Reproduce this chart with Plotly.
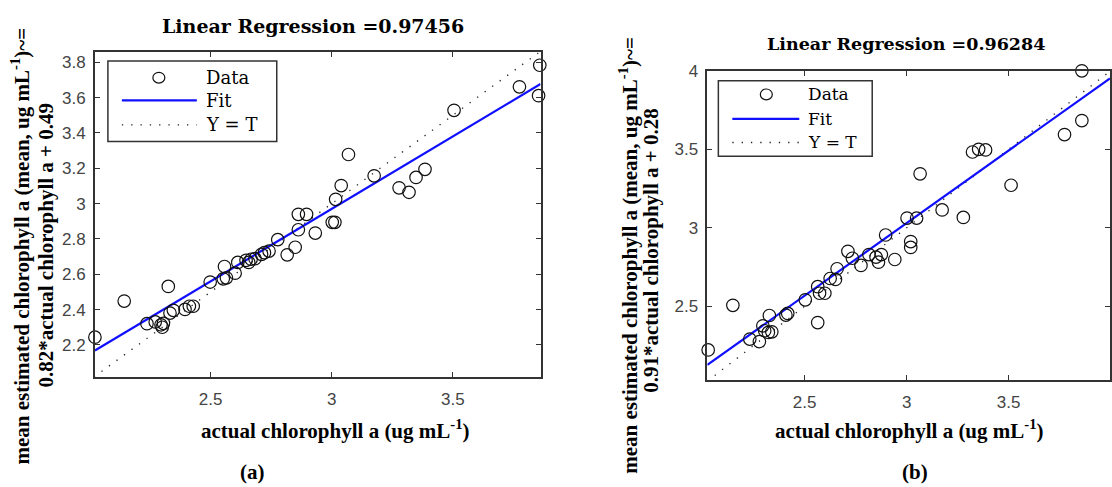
import plotly.graph_objects as go

W, H = 1112, 487

# ---------------- data ----------------
actual_a = [2.022, 2.143, 2.237, 2.271, 2.295, 2.300, 2.305, 2.325, 2.332, 2.346,
            2.394, 2.412, 2.428, 2.498, 2.552, 2.557, 2.565, 2.601, 2.612, 2.646,
            2.657, 2.667, 2.683, 2.710, 2.722, 2.741, 2.777, 2.816, 2.849, 2.862,
            2.862, 2.896, 2.932, 3.002, 3.013, 3.016, 3.039, 3.069, 3.175, 3.278,
            3.319, 3.348, 3.385, 3.505, 3.775, 3.854, 3.859]
estimated_a = [2.244, 2.448, 2.320, 2.330, 2.314, 2.300, 2.322, 2.531, 2.380, 2.396,
               2.401, 2.419, 2.419, 2.556, 2.574, 2.644, 2.580, 2.606, 2.667, 2.679,
               2.667, 2.685, 2.688, 2.713, 2.722, 2.731, 2.796, 2.710, 2.753, 2.939,
               2.852, 2.939, 2.833, 2.894, 2.894, 3.024, 3.102, 3.278, 3.157, 3.089,
               3.064, 3.148, 3.194, 3.528, 3.661, 3.611, 3.783]

actual_b = [2.027, 2.148, 2.231, 2.278, 2.295, 2.304, 2.322, 2.339, 2.327, 2.408,
            2.417, 2.503, 2.564, 2.564, 2.573, 2.599, 2.625, 2.651, 2.659, 2.712,
            2.734, 2.776, 2.815, 2.850, 2.862, 2.876, 2.897, 2.942, 3.002, 3.020,
            3.020, 3.049, 3.066, 3.174, 3.278, 3.323, 3.353, 3.387, 3.512, 3.774,
            3.859, 3.859]
estimated_b = [2.222, 2.506, 2.291, 2.275, 2.375, 2.344, 2.333, 2.337, 2.441, 2.444,
               2.454, 2.541, 2.396, 2.625, 2.583, 2.583, 2.677, 2.671, 2.739, 2.850,
               2.806, 2.760, 2.829, 2.813, 2.781, 2.829, 2.954, 2.798, 3.062, 2.912,
               2.875, 3.062, 3.344, 3.114, 3.066, 3.483, 3.500, 3.496, 3.271, 3.594,
               3.683, 4.000]

fit_a = (0.82, 0.510)    # slope, intercept of drawn fit line
fit_b = (0.925, 0.255)

range_x_a = [2.022, 3.862]
range_y_a = [2.018, 3.857]
range_x_b = [2.023, 3.997]
range_y_b = [2.030, 4.000]

ticks_y_a = [2.2, 2.4, 2.6, 2.8, 3.0, 3.2, 3.4, 3.6, 3.8]
ticklabels_y_a = ["2.2", "2.4", "2.6", "2.8", "3", "3.2", "3.4", "3.6", "3.8"]
ticks_x_a = [2.5, 3.0, 3.5]
ticklabels_x_a = ["2.5", "3", "3.5"]
ticks_b = [2.5, 3.0, 3.5, 4.0]
ticklabels_b = ["2.5", "3", "3.5", "4"]

titles = ["Linear Regression =0.97456", "Linear Regression =0.96284"]
xlabel = "actual chlorophyll a (ug mL<sup>-1</sup>)"
ylabel1 = "mean estimated chlorophyll a (mean, ug mL<sup>-1</sup>)~="
ylabel2 = ["0.82*actual chlorophyll a + 0.49", "0.91*actual chlorophyll a + 0.28"]
legend_names = ["Data", "Fit", "Y = T"]
panel_tags = ["(a)", "(b)"]

# ---------------- helpers ----------------
def px(x):
    return x / W

def py(y):
    return 1 - y / H

fig = go.Figure()

panels = [
    dict(xs=actual_a, ys=estimated_a, fit=fit_a, rx=range_x_a, ry=range_y_a,
         xa="x", ya="y"),
    dict(xs=actual_b, ys=estimated_b, fit=fit_b, rx=range_x_b, ry=range_y_b,
         xa="x2", ya="y2"),
]

for p in panels:
    lo = min(p["rx"][0], p["ry"][0])
    hi = max(p["rx"][1], p["ry"][1])
    # Y = T
    fig.add_trace(go.Scatter(x=[lo, hi], y=[lo, hi], mode="lines",
                             line=dict(color="#222", width=1.3, dash="1.3px,8px"),
                             xaxis=p["xa"], yaxis=p["ya"], showlegend=False,
                             hoverinfo="skip"))
    # Fit
    m, c = p["fit"]
    fx = [p["rx"][0], p["rx"][1]]
    fig.add_trace(go.Scatter(x=fx, y=[m * v + c for v in fx], mode="lines",
                             line=dict(color="#1010ff", width=2.2),
                             xaxis=p["xa"], yaxis=p["ya"], showlegend=False))
    # Data
    fig.add_trace(go.Scatter(x=p["xs"], y=p["ys"], mode="markers",
                             marker=dict(symbol="circle-open", size=12.5,
                                         color="#111", line=dict(width=1.2)),
                             cliponaxis=False,
                             xaxis=p["xa"], yaxis=p["ya"], showlegend=False))

axis_common = dict(showline=True, linecolor="#333", linewidth=1.5, mirror="ticks",
                   ticks="inside", ticklen=5, tickwidth=1.2, tickcolor="#333",
                   showgrid=False, zeroline=False,
                   tickfont=dict(family="Liberation Sans", size=17, color="#444"))

fig.update_layout(
    width=W, height=H,
    margin=dict(l=0, r=0, t=0, b=0),
    paper_bgcolor="white", plot_bgcolor="white",
    showlegend=False,
    xaxis=dict(domain=[px(95), px(541)], range=range_x_a, anchor="y",
               tickvals=ticks_x_a, ticktext=ticklabels_x_a, ticklabelstandoff=6,
               **axis_common),
    yaxis=dict(domain=[py(375), py(44)], range=range_y_a, anchor="x",
               tickvals=ticks_y_a, ticktext=ticklabels_y_a, ticklabelstandoff=4,
               **axis_common),
    xaxis2=dict(domain=[px(708), px(1111)], range=range_x_b, anchor="y2",
                tickvals=ticks_b, ticktext=ticklabels_b, ticklabelstandoff=6,
                **axis_common),
    yaxis2=dict(domain=[py(378), py(63)], range=range_y_b, anchor="x2",
                tickvals=ticks_b, ticktext=ticklabels_b, ticklabelstandoff=4,
                **axis_common),
)

ann = []
def text(t, x, y, size, family="Liberation Serif", angle=0, bold=True,
         xanchor="center"):
    ann.append(dict(text=("<b>%s</b>" % t) if bold else t, x=px(x), y=py(y),
                    xref="paper", yref="paper", showarrow=False,
                    xanchor=xanchor, yanchor="middle", textangle=angle,
                    font=dict(family=family, size=size, color="black")))

# titles
text(titles[0], 313, 17, 19, family="DejaVu Serif")
text(titles[1], 907, 36, 17.5, family="DejaVu Serif")
# x labels
text(xlabel, 336, 428, 21)
text(xlabel, 910, 428, 21)
# y labels
text(ylabel1, 21, 241, 21, angle=-90)
text(ylabel2[0], 46, 240, 21, angle=-90)
text(ylabel1, 629, 251, 21, angle=-90)
text(ylabel2[1], 652, 246, 21, angle=-90)
# panel tags
text(panel_tags[0], 253, 472, 21)
text(panel_tags[1], 916, 472, 21)

# ---------------- legends (decoration) ----------------
shapes = []
legends = [
    dict(box=(108, 53, 277, 135), rows=(70, 93, 118), cx=159, line=(122, 197),
         tx=204, size=18),
    dict(box=(719, 73, 873, 150), rows=(87, 112, 136), cx=767, line=(733, 800),
         tx=807, size=17),
]
for L in legends:
    x0, y0, x1, y1 = L["box"]
    shapes.append(dict(type="rect", xref="paper", yref="paper",
                       x0=px(x0), y0=py(y1), x1=px(x1), y1=py(y0),
                       line=dict(color="#333", width=1.5), fillcolor="white",
                       layer="above"))
    r0, r1, r2 = L["rows"]
    shapes.append(dict(type="circle", xref="paper", yref="paper",
                       x0=px(L["cx"] - 6), x1=px(L["cx"] + 6),
                       y0=py(r0 + 5.5), y1=py(r0 - 5.5),
                       line=dict(color="#111", width=1.2), layer="above"))
    shapes.append(dict(type="line", xref="paper", yref="paper",
                       x0=px(L["line"][0]), x1=px(L["line"][1]),
                       y0=py(r1), y1=py(r1),
                       line=dict(color="#1010ff", width=2.2), layer="above"))
    shapes.append(dict(type="line", xref="paper", yref="paper",
                       x0=px(L["line"][0]), x1=px(L["line"][1]),
                       y0=py(r2), y1=py(r2),
                       line=dict(color="#222", width=1.3, dash="1.3px,8px"),
                       layer="above"))
    for name, r in zip(legend_names, L["rows"]):
        text(name, L["tx"], r, L["size"], family="DejaVu Serif", bold=False,
             xanchor="left")

fig.update_layout(annotations=ann, shapes=shapes)
fig.write_html("out.html", config={"displayModeBar": False},
               post_script="document.body.style.margin='0';"
                           "document.body.style.overflow='hidden';")
